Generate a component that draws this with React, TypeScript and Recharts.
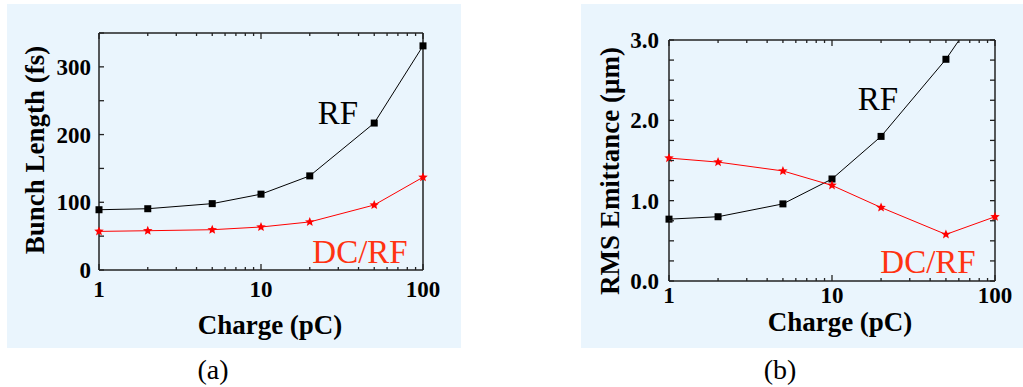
import React from 'react';
import { LineChart, Line, XAxis, YAxis } from 'recharts';

const charges = [1, 2, 5, 10, 20, 50, 100];
const rfBunch = [89, 90.5, 98, 112, 139, 217, 331];
const dcrfBunch = [57, 58, 59.5, 63.5, 71, 96, 137];
const rfEmit = [0.77, 0.8, 0.96, 1.27, 1.8, 2.76, 3.65];
const dcrfEmit = [1.53, 1.48, 1.37, 1.19, 0.915, 0.58, 0.8];

const xTicks = [1, 2, 3, 4, 5, 6, 7, 8, 9, 10, 20, 30, 40, 50, 60, 70, 80, 90, 100];
const xLabels = [1, 10, 100];
const bunchTicks = [0, 50, 100, 150, 200, 250, 300, 350];
const bunchLabels = [0, 100, 200, 300];
const emitTicks = [0, 0.25, 0.5, 0.75, 1, 1.25, 1.5, 1.75, 2, 2.25, 2.5, 2.75, 3];
const emitLabels = [0, 1, 2, 3];

const BG = '#EAF5FD';
const AXIS = '#222';
const RED = '#FF0000';
const LABEL_RED = '#FF3311';
const SERIF = '"Liberation Serif", "Times New Roman", serif';

const bunchData = charges.map((c, i) => ({ charge: c, rf: rfBunch[i], dcrf: dcrfBunch[i] }));
const emitData = charges.map((c, i) => ({ charge: c, rf: rfEmit[i], dcrf: dcrfEmit[i] }));

const SquareDot = (props: any) => {
  const { cx, cy } = props;
  if (cx == null || cy == null) return null;
  return <rect x={cx - 3.5} y={cy - 3.5} width={7} height={7} fill="#000" />;
};

const StarDot = (props: any) => {
  const { cx, cy } = props;
  if (cx == null || cy == null) return null;
  const pts: string[] = [];
  for (let k = 0; k < 10; k++) {
    const r = k % 2 === 0 ? 5 : 2.2;
    const a = -Math.PI / 2 + (k * Math.PI) / 5;
    pts.push(`${cx + r * Math.cos(a)},${cy + r * Math.sin(a)}`);
  }
  return <polygon points={pts.join(' ')} fill={RED} />;
};

// tickSize/tickMargin are 0 so x,y sit on the axis line
const makeXTick = (side: 'bottom' | 'top', labelDy: number) => (props: any) => {
  const { x, y, payload } = props;
  const major = xLabels.includes(payload.value);
  const len = major ? 6 : 3;
  const dir = side === 'bottom' ? -1 : 1;
  return (
    <g>
      <line x1={x} x2={x} y1={y} y2={y + dir * len} stroke={AXIS} strokeWidth={1.3} />
      {side === 'bottom' && major && (
        <text x={x} y={y + labelDy} textAnchor="middle" fontFamily={SERIF} fontWeight="bold" fontSize={23} fill="#000">
          {payload.value}
        </text>
      )}
    </g>
  );
};

const makeYTick = (side: 'left' | 'right', labels: number[], fmt: (v: number) => string, gap: number) => (props: any) => {
  const { x, y, payload } = props;
  const dir = side === 'left' ? 1 : -1;
  const major = labels.includes(payload.value);
  return (
    <g>
      <line x1={x} x2={x + dir * 5} y1={y} y2={y} stroke={AXIS} strokeWidth={1.3} />
      {side === 'left' && major && (
        <text x={x - gap} y={y + 8} textAnchor="end" fontFamily={SERIF} fontWeight="bold" fontSize={23} fill="#000">
          {fmt(payload.value)}
        </text>
      )}
    </g>
  );
};

const txt = (
  s: string,
  left: number,
  top: number,
  size: number,
  opts: { bold?: boolean; color?: string; rotate?: boolean } = {}
) => (
  <div
    style={{
      position: 'absolute',
      left,
      top,
      fontFamily: SERIF,
      fontSize: size,
      fontWeight: opts.bold ? 'bold' : 'normal',
      color: opts.color || '#000',
      whiteSpace: 'nowrap',
      lineHeight: 1,
      transform: opts.rotate ? 'translate(-50%, -50%) rotate(-90deg)' : 'translate(-50%, 0)',
    }}
  >
    {s}
  </div>
);

const axisCommon = { tickSize: 0, tickMargin: 0, interval: 0 as const, axisLine: { stroke: AXIS, strokeWidth: 1.5 }, tickLine: false };

export default function App() {
  return (
    <div style={{ position: 'absolute', left: 0, top: 0, width: 1023, height: 387, background: '#fff', overflow: 'hidden' }}>
      {/* panel (a) */}
      <div style={{ position: 'absolute', left: 7, top: 4, width: 454, height: 344, background: BG }}>
        <LineChart width={454} height={344} data={bunchData} margin={{ top: 28, right: 37, bottom: 77, left: 91 }} style={{ overflow: 'visible' }}>
          <XAxis xAxisId="b" dataKey="charge" type="number" scale="log" domain={[1, 100]} ticks={xTicks} height={1} tick={makeXTick('bottom', 27)} {...axisCommon} />
          <XAxis xAxisId="t" orientation="top" dataKey="charge" type="number" scale="log" domain={[1, 100]} ticks={xTicks} height={1} tick={makeXTick('top', 27)} {...axisCommon} />
          <YAxis yAxisId="l" type="number" domain={[0, 350]} ticks={bunchTicks} width={1} tick={makeYTick('left', bunchLabels, (v) => String(v), 8)} {...axisCommon} />
          <YAxis yAxisId="r" orientation="right" type="number" domain={[0, 350]} ticks={bunchTicks} width={1} tick={makeYTick('right', bunchLabels, (v) => String(v), 8)} {...axisCommon} />
          <Line xAxisId="b" yAxisId="l" dataKey="rf" stroke="#000" strokeWidth={1} dot={<SquareDot />} isAnimationActive={false} />
          <Line xAxisId="b" yAxisId="l" dataKey="dcrf" stroke={RED} strokeWidth={1} dot={<StarDot />} isAnimationActive={false} />
        </LineChart>
      </div>
      {txt('Bunch Length (fs)', 35, 150, 27, { bold: true, rotate: true })}
      {txt('Charge (pC)', 270, 312, 27, { bold: true })}
      {txt('RF', 338, 97, 33)}
      {txt('DC/RF', 360, 236, 33, { color: LABEL_RED })}
      {txt('(a)', 213, 356, 28)}

      {/* panel (b) */}
      <div style={{ position: 'absolute', left: 581, top: 4, width: 442, height: 344, background: BG }}>
        <LineChart width={442} height={344} data={emitData} margin={{ top: 35, right: 27, bottom: 66, left: 87 }} style={{ overflow: 'visible' }}>
          <XAxis xAxisId="b" dataKey="charge" type="number" scale="log" domain={[1, 100]} ticks={xTicks} height={1} tick={makeXTick('bottom', 22)} {...axisCommon} />
          <XAxis xAxisId="t" orientation="top" dataKey="charge" type="number" scale="log" domain={[1, 100]} ticks={xTicks} height={1} tick={makeXTick('top', 22)} {...axisCommon} />
          <YAxis yAxisId="l" type="number" domain={[0, 3]} allowDataOverflow ticks={emitTicks} width={1} tick={makeYTick('left', emitLabels, (v) => v.toFixed(1), 10)} {...axisCommon} />
          <YAxis yAxisId="r" orientation="right" type="number" domain={[0, 3]} allowDataOverflow ticks={emitTicks} width={1} tick={makeYTick('right', emitLabels, (v) => v.toFixed(1), 10)} {...axisCommon} />
          <Line xAxisId="b" yAxisId="l" dataKey="rf" stroke="#000" strokeWidth={1} dot={<SquareDot />} isAnimationActive={false} />
          <Line xAxisId="b" yAxisId="l" dataKey="dcrf" stroke={RED} strokeWidth={1} dot={<StarDot />} isAnimationActive={false} />
        </LineChart>
      </div>
      {txt('RMS Emittance (μm)', 610, 171, 27, { bold: true, rotate: true })}
      {txt('Charge (pC)', 840, 309, 27, { bold: true })}
      {txt('RF', 878, 83, 33)}
      {txt('DC/RF', 928, 246, 33, { color: LABEL_RED })}
      {txt('(b)', 780, 356, 28)}
    </div>
  );
}
